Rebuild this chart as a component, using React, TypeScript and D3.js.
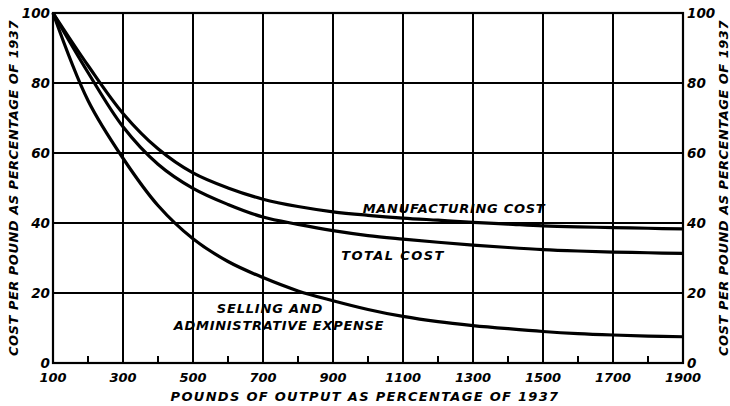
import * as d3 from 'd3';

// output as % of 1937 (x), cost per pound as % of 1937 (y)
const output = [100, 200, 300, 400, 500, 600, 700, 800, 900, 1000, 1100, 1200, 1300, 1400, 1500, 1600, 1700, 1800, 1900];
const manufacturing = [100, 85, 71.3, 61.2, 54.3, 50, 46.8, 44.7, 43.2, 42.2, 41.4, 40.8, 40.2, 39.7, 39.2, 38.9, 38.7, 38.5, 38.3];
const totalCost = [100, 83, 67.5, 56.8, 49.9, 45.3, 41.7, 39.6, 37.8, 36.4, 35.4, 34.5, 33.7, 33, 32.4, 32, 31.7, 31.5, 31.3];
const selling = [100, 75, 58.5, 45, 35.5, 29, 24.4, 20.6, 17.8, 15.3, 13.3, 11.8, 10.7, 9.8, 9, 8.4, 8, 7.7, 7.5];

const xTicks = [100, 300, 500, 700, 900, 1100, 1300, 1500, 1700, 1900];
const xMinor = [200, 400, 600, 800, 1000, 1200, 1400, 1600, 1800];
const yTicks = [0, 20, 40, 60, 80, 100];

const font = '"DejaVu Sans", sans-serif';

export default function App() {
  const x = d3.scaleLinear().domain([100, 1900]).range([53, 683]);
  const y = d3.scaleLinear().domain([0, 100]).range([363, 13]);

  const line = d3.line<number>()
    .x((_, i) => x(output[i]))
    .y(d => y(d))
    .curve(d3.curveCatmullRom.alpha(0.5));

  const series = [manufacturing, totalCost, selling];

  const textStyle = { fontFamily: font, fontWeight: 'bold', fontStyle: 'italic' } as const;

  return (
    <svg width={730} height={406} style={{ position: 'absolute', left: 0, top: 0, background: '#fff' }}>
      {/* grid */}
      {xTicks.slice(1, -1).map(t => (
        <line key={'gx' + t} x1={x(t)} x2={x(t)} y1={y(100)} y2={y(0)} stroke="#000" strokeWidth={2} />
      ))}
      {yTicks.slice(1, -1).map(t => (
        <line key={'gy' + t} x1={x(100)} x2={x(1900)} y1={y(t)} y2={y(t)} stroke="#000" strokeWidth={2} />
      ))}
      {xMinor.map(t => (
        <line key={'mx' + t} x1={x(t)} x2={x(t)} y1={y(0)} y2={y(0) - 7} stroke="#000" strokeWidth={2} />
      ))}
      <rect x={x(100)} y={y(100)} width={x(1900) - x(100)} height={y(0) - y(100)} fill="none" stroke="#000" strokeWidth={2.2} />

      {/* curves */}
      {series.map((s, i) => (
        <path key={'s' + i} d={line(s) ?? ''} fill="none" stroke="#000" strokeWidth={3.2} />
      ))}

      {/* tick labels */}
      {yTicks.map(t => (
        <text key={'yl' + t} x={x(100) - 3} y={y(t) + 5} textAnchor="end" fontSize={13.5} {...textStyle}>{t}</text>
      ))}
      {yTicks.map(t => (
        <text key={'yr' + t} x={x(1900) + 4} y={y(t) + 5} textAnchor="start" fontSize={13.5} {...textStyle}>{t}</text>
      ))}
      {xTicks.map(t => (
        <text key={'xl' + t} x={x(t)} y={y(0) + 19} textAnchor="middle" fontSize={13} {...textStyle}>{t}</text>
      ))}

      {/* axis titles */}
      <text x={365} y={401} textAnchor="middle" fontSize={13} letterSpacing={1.3} {...textStyle}>POUNDS OF OUTPUT AS PERCENTAGE OF 1937</text>
      <text transform={`translate(18,${y(50)}) rotate(-90)`} textAnchor="middle" fontSize={13} letterSpacing={0.5} {...textStyle}>COST PER POUND AS PERCENTAGE OF 1937</text>
      <text transform={`translate(728,${y(50)}) rotate(-90)`} textAnchor="middle" fontSize={13} letterSpacing={0.5} {...textStyle}>COST PER POUND AS PERCENTAGE OF 1937</text>

      {/* series labels */}
      <text x={454} y={213} textAnchor="middle" fontSize={13} letterSpacing={0.7} {...textStyle}>MANUFACTURING COST</text>
      <text x={393} y={260} textAnchor="middle" fontSize={13} letterSpacing={1.4} {...textStyle}>TOTAL COST</text>
      <text x={270} y={313} textAnchor="middle" fontSize={13} letterSpacing={0.8} {...textStyle}>SELLING AND</text>
      <text x={279} y={330} textAnchor="middle" fontSize={13} letterSpacing={0.7} {...textStyle}>ADMINISTRATIVE EXPENSE</text>
    </svg>
  );
}
